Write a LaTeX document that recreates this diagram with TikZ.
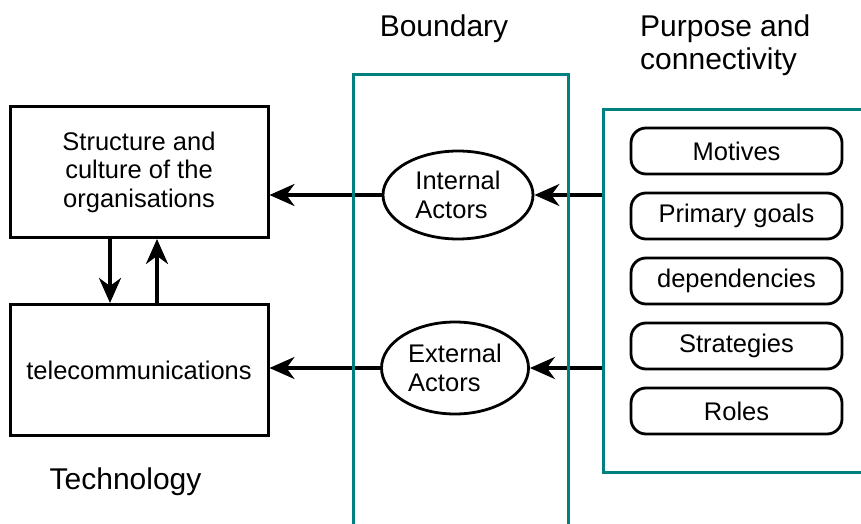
\documentclass[tikz,border=0pt]{standalone}
\usepackage{fontspec}
\setmainfont{Liberation Sans}
\usetikzlibrary{positioning, arrows.meta, shapes.geometric}
\definecolor{bndteal}{RGB}{0,128,128}

\begin{document}
\begin{tikzpicture}[
  x=1pt, y=-1pt,
  node distance=19pt,
  blk/.style={rectangle, draw=black, line width=3pt,
              minimum width=258pt, minimum height=131pt, align=center,
              font=\fontsize{25.5}{28.5}\selectfont},
  actor/.style={ellipse, draw=black, line width=2.8pt, inner sep=0pt,
                minimum width=150pt, minimum height=88pt, align=left,
                font=\fontsize{25.5}{28.5}\selectfont},
  pill/.style={rectangle, draw=black, rounded corners=15pt, line width=2.8pt,
               minimum width=211pt, minimum height=46pt, outer sep=0pt,
               font=\fontsize{25.5}{28.5}\selectfont},
  frame/.style={rectangle, draw=bndteal, line width=2.8pt, inner sep=0pt},
  title/.style={font=\fontsize{30}{33}\selectfont, inner sep=0pt},
  arrow/.style={-{Stealth[length=25pt, width=22pt, inset=8pt]}, line width=3.4pt}
]
\useasboundingbox (0,0) rectangle (861,524);

% ==================== TECHNOLOGY ====================
\node[blk] (org) at (139,172) {Structure and\\culture of the\\organisations};
\node[blk, below=64pt of org] (tel) {telecommunications};
\node[title, anchor=base] (techlabel) at (125.5,489) {Technology};

% ==================== BOUNDARY ====================
\node[actor] (int) at (458,195) {Internal\\Actors};
\node[actor, minimum width=147pt, minimum height=92pt] (ext) at (455,368) {External\\Actors};
\node[title, anchor=base] (bndlabel) at (444,37) {Boundary};

% ==================== PURPOSE ====================
\node[frame, minimum width=300pt, minimum height=363pt, anchor=north west] (pur) at (602,108) {};
\node[pill] (p1) at (736.5,151) {Motives};
\node[pill, below=of p1] (p2) {Primary goals};
\node[pill, below=of p2] (p3) {dependencies};
\node[pill, below=of p3] (p4) {Strategies};
\node[pill, below=of p4] (p5) {Roles};
\node[title, anchor=north west, align=left] (purlabel) at (640,15) {Purpose and\\connectivity};

% ==================== ARROWS ====================
\draw[arrow] ([xshift=-29pt]org.south) -- ([xshift=-29pt]tel.north);
\draw[arrow] ([xshift=18pt]tel.north) -- ([xshift=18pt]org.south);

\draw[arrow] (int.west) -- (int.west -| org.east);
\draw[arrow] (ext.west) -- (ext.west -| tel.east);

\draw[arrow] (int -| pur.west) -- (int.east);
\draw[arrow] (ext -| pur.west) -- (ext.east);

% boundary frame last, it runs over the arrows
\node[frame, minimum width=215pt, minimum height=500pt, anchor=north west] (bnd) at (352,73) {};

\end{tikzpicture}
\end{document}
